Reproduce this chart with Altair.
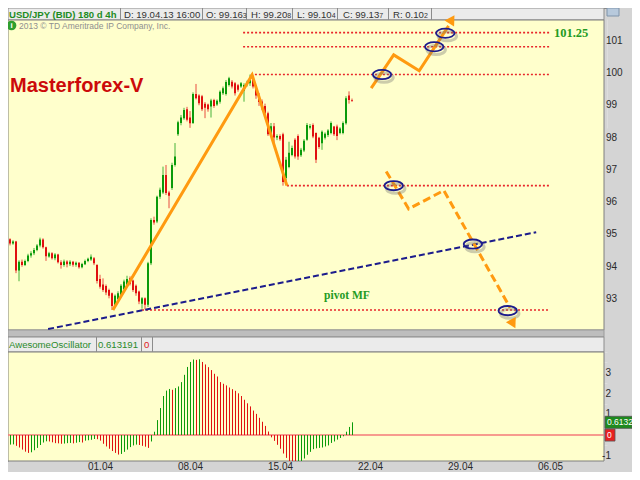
import altair as alt
import pandas as pd
import numpy as np

# ---------------- values ----------------
opens = [94.73, 94.85, 94.72, 94.78, 93.88, 94.15, 94.05, 94.18, 94.35, 94.42,
         94.52, 94.66, 94.84, 94.60, 94.32, 94.42, 94.26, 94.38, 94.14, 94.05,
         94.16, 94.08, 94.15, 94.06, 94.12, 93.98, 94.08, 94.18, 94.22, 94.26,
         94.05, 93.62, 93.45, 93.40, 93.28, 93.18, 92.82, 93.00, 93.13, 93.30,
         93.44, 93.64, 93.57, 93.41, 93.23, 92.85, 93.02, 92.82, 94.11, 95.45,
         95.40, 96.17, 96.30, 96.84, 96.30, 96.44, 97.15, 98.10, 98.45, 98.60,
         98.88, 98.62, 98.45, 99.35, 99.30, 99.28, 99.05, 99.02, 98.96, 99.16,
         99.02, 99.11, 99.37, 99.35, 99.63, 99.73, 99.68, 99.62, 99.58, 99.45,
         99.63, 99.68, 99.85, 99.58, 99.32, 99.12, 98.98, 98.75, 98.10, 98.35,
         98.00, 98.05, 98.10, 96.75, 97.09, 97.46, 97.93, 98.05, 97.45, 97.60,
         97.93, 98.30, 98.39, 98.14, 97.99, 97.82, 97.99, 98.08, 98.14, 98.34,
         98.34, 98.14, 98.14, 98.44, 99.30, 99.163]
highs = [94.90, 94.88, 94.82, 94.80, 94.20, 94.22, 94.22, 94.40, 94.48, 94.58,
         94.70, 94.90, 94.88, 94.62, 94.46, 94.45, 94.42, 94.40, 94.20, 94.22,
         94.20, 94.20, 94.18, 94.16, 94.14, 94.12, 94.22, 94.28, 94.38, 94.30,
         94.08, 93.75, 93.64, 93.45, 93.32, 93.20, 93.14, 93.24, 93.46, 93.60,
         93.72, 93.70, 93.60, 93.45, 93.26, 93.06, 93.05, 94.15, 95.50, 95.55,
         96.20, 96.45, 97.10, 97.15, 96.35, 97.22, 97.83, 98.52, 98.70, 98.92,
         98.95, 98.82, 99.40, 99.66, 99.34, 99.32, 99.10, 99.05, 99.20, 99.20,
         99.18, 99.46, 99.58, 99.78, 99.88, 99.78, 99.72, 99.66, 99.72, 99.68,
         99.76, 99.95, 99.92, 99.62, 99.38, 99.18, 99.05, 98.80, 98.45, 98.45,
         98.10, 98.10, 98.15, 97.40, 97.87, 97.75, 97.98, 98.10, 97.68, 97.95,
         98.45, 98.42, 98.44, 98.16, 98.02, 98.22, 98.16, 98.26, 98.50, 98.36,
         98.40, 98.32, 98.50, 99.28, 99.43, 99.208]
lows = [94.70, 94.66, 94.68, 93.80, 93.55, 94.00, 94.02, 94.14, 94.28, 94.36,
        94.48, 94.60, 94.56, 94.18, 94.28, 94.22, 94.20, 94.10, 93.94, 94.00,
        93.98, 94.02, 94.00, 94.00, 93.94, 93.95, 94.05, 94.14, 94.18, 94.05,
        93.48, 93.32, 93.22, 93.12, 93.02, 92.66, 92.74, 92.95, 93.08, 93.26,
        93.40, 93.42, 93.22, 93.10, 92.84, 92.70, 92.68, 92.75, 94.05, 95.30,
        95.35, 96.10, 96.25, 96.22, 95.81, 96.38, 97.10, 98.05, 98.38, 98.55,
        98.50, 98.30, 98.42, 99.18, 99.00, 98.82, 98.60, 98.80, 98.62, 98.92,
        98.98, 99.05, 99.32, 99.30, 99.58, 99.52, 99.30, 99.42, 99.54, 99.11,
        99.58, 99.60, 99.52, 99.20, 98.98, 98.85, 98.65, 98.05, 98.05, 97.80,
        97.92, 97.90, 96.51, 96.60, 97.05, 97.42, 97.35, 97.31, 97.40, 97.55,
        97.90, 98.25, 97.98, 97.21, 97.65, 97.62, 97.94, 98.02, 98.10, 98.05,
        97.92, 98.10, 98.10, 98.40, 99.05, 99.104]
closes = [94.85, 94.72, 94.78, 93.88, 94.15, 94.05, 94.18, 94.35, 94.42, 94.52,
          94.66, 94.84, 94.60, 94.32, 94.42, 94.26, 94.38, 94.14, 94.05, 94.16,
          94.08, 94.15, 94.06, 94.12, 93.98, 94.08, 94.18, 94.25, 94.31, 94.11,
          93.56, 93.38, 93.28, 93.20, 93.10, 92.78, 93.10, 93.18, 93.41, 93.54,
          93.62, 93.47, 93.28, 93.18, 92.92, 93.02, 92.82, 94.11, 95.45, 95.37,
          96.17, 96.38, 96.84, 96.28, 96.20, 97.15, 97.41, 98.47, 98.62, 98.85,
          98.55, 98.44, 99.35, 99.22, 99.06, 98.88, 98.92, 98.88, 99.15, 98.98,
          99.14, 99.42, 99.53, 99.72, 99.84, 99.58, 99.37, 99.48, 99.68, 99.63,
          99.70, 99.85, 99.58, 99.30, 99.10, 98.95, 98.75, 98.10, 98.35, 98.00,
          98.05, 97.95, 96.62, 97.31, 97.53, 97.68, 97.41, 97.41, 97.62, 97.90,
          98.39, 98.36, 98.03, 97.31, 97.71, 98.18, 98.12, 98.22, 98.45, 98.10,
          98.05, 98.28, 98.45, 99.22, 99.16, 99.137]
ao_values = [-0.50, -0.46, -0.45, -0.52, -0.60, -0.70, -0.80, -0.86, -0.83, -0.73,
             -0.62, -0.48, -0.36, -0.30, -0.31, -0.35, -0.39, -0.40, -0.42, -0.41,
             -0.39, -0.38, -0.40, -0.37, -0.34, -0.36, -0.27, -0.25, -0.23, -0.19,
             -0.20, -0.27, -0.42, -0.55, -0.66, -0.77, -0.86, -0.94, -0.91, -0.81,
             -0.70, -0.58, -0.50, -0.46, -0.48, -0.52, -0.56, -0.62, -0.31, 0.16,
             0.72, 1.30, 1.88, 2.14, 2.22, 2.18, 2.26, 2.34, 2.55, 2.90,
             3.28, 3.52, 3.64, 3.62, 3.65, 3.52, 3.40, 3.27, 3.13, 2.95,
             2.82, 2.55, 2.47, 2.39, 2.29, 2.21, 2.13, 2.01, 1.88, 1.70,
             1.53, 1.38, 1.18, 1.02, 0.83, 0.64, 0.44, 0.17, -0.11, -0.28,
             -0.47, -0.66, -0.89, -1.10, -1.36, -1.52, -1.55, -1.50, -1.36, -1.13,
             -0.95, -0.81, -0.68, -0.64, -0.62, -0.60, -0.55, -0.50, -0.38, -0.31,
             -0.22, -0.14, -0.06, 0.16, 0.39, 0.613]

price_ticks = [93, 94, 95, 96, 97, 98, 99, 100, 101]
ao_ticks = [3, 2, 1, -1]
date_labels = ["01.04", "08.04", "15.04", "22.04", "29.04", "06.05"]
date_bars = [27, 57, 87, 117, 147, 177]

levels = [101.25, 100.81, 99.95, 96.51, 92.66]
level_start = [78.7, 78.7, 81.3, 93.3, 45.0]
level_end = [180.7, 180.7, 180.7, 180.7, 180.7]

zigzag_i = [35.3, 81.7, 93.3]
zigzag_p = [92.66, 99.94, 96.51]
up_i = [121.4, 128.9, 137.4, 147.2]
up_p = [99.53, 100.56, 100.07, 101.46]
down_i = [126.4, 133.9, 145.6, 167.7]
down_p = [96.95, 95.79, 96.36, 92.73]
trend_i = [13.7, 176.4]
trend_p = [92.07, 95.07]
ring_i = [125.0, 142.4, 146.1, 128.9, 155.3, 166.9]
ring_p = [99.95, 100.81, 101.23, 96.51, 94.70, 92.64]
arrow_i = [148.3, 168.7]
arrow_p = [101.66, 92.23]
arrow_angle = [32, 152]

header_main = "USD/JPY (BID) 180 d 4h"
header_items = ["D: 19.04.13 16:00", "O: 99.16", "H: 99.20", "L: 99.10", "C: 99.13", "R: 0.10"]
header_small = ["3", "8", "4", "7", "2"]
ao_header = ["AwesomeOscillator", "0.613191", "0"]
ao_last = 0.6132

# ---------------- styling / layout ----------------
GREEN = "#0A9A0A"
RED = "#E01010"
ORANGE = "#FF9A10"
NAVY = "#1C1C8C"
YELLOW = "#FFFFCC"
BG = "#D4D4D4"
FONT = "Liberation Sans"

XS = alt.Scale(domain=[0, 200], range=[-1, 599], nice=False, zero=False)
PS = alt.Scale(domain=[92.04, 101.64], range=[322, 12], nice=False, zero=False)
AS = alt.Scale(domain=[-1.25, 4.0], range=[453, 344], nice=False, zero=False, clamp=True)

ELL = ("M -1 0 C -1 -0.276 -0.552 -0.5 0 -0.5 C 0.552 -0.5 1 -0.276 1 0 "
       "C 1 0.276 0.552 0.5 0 0.5 C -0.552 0.5 -1 0.276 -1 0 Z")

dir_color = alt.Color("dir:N", scale=alt.Scale(domain=["up", "down"], range=[GREEN, RED]), legend=None)

# panels (layout rectangles, pixel space)
panels = pd.DataFrame([
    dict(x0=0, x1=596, y0=0, y1=12, fill="#EBEBEB", stroke="#8C8C8C"),
    dict(x0=0, x1=596, y0=12, y1=322, fill=YELLOW, stroke="#7F7F7F"),
    dict(x0=0, x1=596, y0=322, y1=329, fill="#BDBDBD", stroke="#9A9A9A"),
    dict(x0=0, x1=596, y0=329, y1=344, fill="#EBEBEB", stroke="#8C8C8C"),
    dict(x0=0, x1=596, y0=344, y1=453, fill=YELLOW, stroke="#7F7F7F"),
    dict(x0=599, x1=611, y0=0, y1=8, fill="#B7C9DC", stroke="#7E93AA"),
])
rects = alt.Chart(panels).mark_rect(strokeWidth=1).encode(
    x=alt.X("x0:Q", scale=None), x2="x1:Q",
    y=alt.Y("y0:Q", scale=None), y2="y1:Q",
    fill=alt.Fill("fill:N", scale=None), stroke=alt.Stroke("stroke:N", scale=None))

seps = pd.DataFrame(dict(x=[112.5, 194.5, 238.5, 284.5, 329.5, 380.5, 423.5, 88.5, 133.5, 144.5],
                         y0=[0] * 7 + [329] * 3, y1=[12] * 7 + [344] * 3))
sep_rules = alt.Chart(seps).mark_rule(color="#8C8C8C", strokeWidth=1).encode(
    x=alt.X("x:Q", scale=None), y=alt.Y("y0:Q", scale=None), y2="y1:Q")

# header texts
hm = pd.DataFrame(dict(x=[1], y=[10], t=[header_main]))
hdr_main = alt.Chart(hm).mark_text(font=FONT, fontSize=9.6, fontWeight="bold", color="#1E8C1E",
                                   align="left", baseline="alphabetic").encode(
    x=alt.X("x:Q", scale=None), y=alt.Y("y:Q", scale=None), text="t:N")
hi = pd.DataFrame(dict(x=[116, 198, 243, 289, 335, 385], y=[10] * 6, t=header_items))
hdr_items = alt.Chart(hi).mark_text(font=FONT, fontSize=9.6, color="#333333",
                                    align="left", baseline="alphabetic").encode(
    x=alt.X("x:Q", scale=None), y=alt.Y("y:Q", scale=None), text="t:N")
hs = pd.DataFrame(dict(x=[234.8, 279.3, 323.7, 371.3, 416], y=[10] * 5, t=header_small))
hdr_small = alt.Chart(hs).mark_text(font=FONT, fontSize=7, color="#333333",
                                    align="left", baseline="alphabetic").encode(
    x=alt.X("x:Q", scale=None), y=alt.Y("y:Q", scale=None), text="t:N")
cp = pd.DataFrame(dict(x=[11], y=[17.5], t=["2013 \u00a9 TD Ameritrade IP Company, Inc."]))
copyright_t = alt.Chart(cp).mark_text(font=FONT, fontSize=8.5, color="#8F8F8F",
                                      align="left", baseline="middle").encode(
    x=alt.X("x:Q", scale=None), y=alt.Y("y:Q", scale=None), text="t:N")
ic = pd.DataFrame(dict(x=[3.5], y=[17.5], t=["i"]))
icon_c = alt.Chart(ic).mark_point(shape="circle", filled=True, size=95, color="#2F9F2F", opacity=1).encode(
    x=alt.X("x:Q", scale=None), y=alt.Y("y:Q", scale=None))
icon_t = alt.Chart(ic).mark_text(font=FONT, fontSize=8, fontWeight="bold", color="white",
                                 align="center", baseline="middle").encode(
    x=alt.X("x:Q", scale=None), y=alt.Y("y:Q", scale=None), text="t:N")

ah = pd.DataFrame(dict(x=[1, 90, 136], y=[340] * 3, t=ao_header, c=["#2A8A2A", "#2A8A2A", "#E02020"]))
ao_hdr = alt.Chart(ah).mark_text(font=FONT, fontSize=9.6, align="left", baseline="alphabetic").encode(
    x=alt.X("x:Q", scale=None), y=alt.Y("y:Q", scale=None), text="t:N",
    color=alt.Color("c:N", scale=None))

# candles
cdf = pd.DataFrame(dict(i=list(range(len(opens))), o=opens, h=highs, l=lows, c=closes))
cdf["dir"] = np.where(cdf["c"] >= cdf["o"], "up", "down")
wicks = alt.Chart(cdf).mark_rule(strokeWidth=1, opacity=0.75).encode(
    x=alt.X("i:Q", scale=XS), y=alt.Y("l:Q", scale=PS), y2="h:Q", color=dir_color)
bodies = alt.Chart(cdf).mark_rule(strokeWidth=2).encode(
    x=alt.X("i:Q", scale=XS), y=alt.Y("o:Q", scale=PS), y2="c:Q", color=dir_color)

# awesome oscillator
adf = pd.DataFrame(dict(i=list(range(len(ao_values))), v=ao_values, z=[0.0] * len(ao_values)))
adf["dir"] = np.where(adf["v"].diff().fillna(1) >= 0, "up", "down")
ao_bars = alt.Chart(adf).mark_rule(strokeWidth=1, xOffset=0.5).encode(
    x=alt.X("i:Q", scale=XS), y=alt.Y("v:Q", scale=AS), y2="z:Q", color=dir_color)
zl = pd.DataFrame(dict(a=[-1], b=[199], v=[0.0]))
zero_line = alt.Chart(zl).mark_rule(color="#F47A7A", strokeWidth=1.5).encode(
    x=alt.X("a:Q", scale=XS), x2="b:Q", y=alt.Y("v:Q", scale=AS))

# level lines
lv = pd.DataFrame(dict(p=levels, s=level_start, e=level_end))
level_lines = alt.Chart(lv).mark_rule(color="#E8262A", strokeWidth=1.6, strokeDash=[2, 2]).encode(
    x=alt.X("s:Q", scale=XS), x2="e:Q", y=alt.Y("p:Q", scale=PS))

def poly(ii, pp):
    return pd.DataFrame(dict(i=ii, p=pp, k=list(range(len(ii)))))

trend = alt.Chart(poly(trend_i, trend_p)).mark_line(color=NAVY, strokeWidth=2, strokeDash=[6, 3]).encode(
    x=alt.X("i:Q", scale=XS), y=alt.Y("p:Q", scale=PS), order="k:Q")
zigzag = alt.Chart(poly(zigzag_i, zigzag_p)).mark_line(color=ORANGE, strokeWidth=3).encode(
    x=alt.X("i:Q", scale=XS), y=alt.Y("p:Q", scale=PS), order="k:Q")
up_line = alt.Chart(poly(up_i, up_p)).mark_line(color=ORANGE, strokeWidth=3).encode(
    x=alt.X("i:Q", scale=XS), y=alt.Y("p:Q", scale=PS), order="k:Q")
down_line = alt.Chart(poly(down_i, down_p)).mark_line(color=ORANGE, strokeWidth=3, strokeDash=[8, 4]).encode(
    x=alt.X("i:Q", scale=XS), y=alt.Y("p:Q", scale=PS), order="k:Q")
adf2 = pd.DataFrame(dict(i=arrow_i, p=arrow_p, a=arrow_angle))
arrows = alt.Chart(adf2).mark_point(shape="triangle-up", filled=True, size=125, color=ORANGE, opacity=1).encode(
    x=alt.X("i:Q", scale=XS), y=alt.Y("p:Q", scale=PS), angle=alt.Angle("a:Q", scale=None))

rdf = pd.DataFrame(dict(i=ring_i, p=ring_p))
ring_shadow = alt.Chart(rdf).mark_point(shape=ELL, size=340, filled=False, color="#6E6E6E",
                                        strokeWidth=3, opacity=0.35, xOffset=2, yOffset=3).encode(
    x=alt.X("i:Q", scale=XS), y=alt.Y("p:Q", scale=PS))
rings = alt.Chart(rdf).mark_point(shape=ELL, size=340, filled=False, color=NAVY,
                                  strokeWidth=1.8, opacity=1).encode(
    x=alt.X("i:Q", scale=XS), y=alt.Y("p:Q", scale=PS))

# annotations
mf = pd.DataFrame(dict(x=[2], y=[78], t=["Masterforex-V"]))
title_t = alt.Chart(mf).mark_text(font=FONT, fontSize=20, fontWeight="bold", color="#CC0A0A",
                                  align="left", baseline="middle").encode(
    x=alt.X("x:Q", scale=None), y=alt.Y("y:Q", scale=None), text="t:N")
ann = pd.DataFrame(dict(i=[182.3, 105.7], p=[101.25, 93.10], t=["101.25", "pivot MF"], s=[12.5, 11.5]))
ann_t = alt.Chart(ann).mark_text(font="Liberation Serif", fontWeight="bold", color="#239B23",
                                 align="left", baseline="middle").encode(
    x=alt.X("i:Q", scale=XS), y=alt.Y("p:Q", scale=PS), text="t:N", size=alt.Size("s:Q", scale=None))

# axis labels
pt = pd.DataFrame(dict(p=price_ticks, t=[str(v) for v in price_ticks]))
price_lbl = alt.Chart(pt).mark_text(font=FONT, fontSize=10, color="#2A2A2A", align="left", baseline="middle").encode(
    x=alt.value(598), y=alt.Y("p:Q", scale=PS), text="t:N")
at = pd.DataFrame(dict(v=ao_ticks, t=[str(v) for v in ao_ticks]))
ao_lbl = alt.Chart(at).mark_text(font=FONT, fontSize=10, color="#2A2A2A", align="right", baseline="middle").encode(
    x=alt.value(603), y=alt.Y("v:Q", scale=AS), text="t:N")
dt = pd.DataFrame(dict(i=date_bars, t=date_labels))
date_lbl = alt.Chart(dt).mark_text(font=FONT, fontSize=10, color="#2A2A2A", align="left", baseline="alphabetic").encode(
    x=alt.X("i:Q", scale=XS), y=alt.value(462), text="t:N")

vb = pd.DataFrame(dict(v=[ao_last, 0.0], x0=[597, 597], x1=[624, 607], f=["#1E8A1E", "#E82020"],
                       t=[f"{ao_last:.4f}", "0"]))
val_box = alt.Chart(vb).mark_rect(yOffset=-6, y2Offset=6, stroke="#555555", strokeWidth=0.8).encode(
    x=alt.X("x0:Q", scale=None), x2="x1:Q", y=alt.Y("v:Q", scale=AS), y2="v:Q",
    fill=alt.Fill("f:N", scale=None))
val_txt = alt.Chart(vb).mark_text(font=FONT, fontSize=8.5, color="white", align="left", baseline="middle").encode(
    x=alt.value(599), y=alt.Y("v:Q", scale=AS), text="t:N")

chart = alt.layer(
    rects, sep_rules, hdr_main, hdr_items, hdr_small, copyright_t, icon_c, icon_t, ao_hdr,
    zero_line, ao_bars, level_lines, trend, wicks, bodies, zigzag, up_line, down_line,
    ring_shadow, rings, arrows, title_t, ann_t, price_lbl, ao_lbl, date_lbl, val_box, val_txt
).resolve_scale(
    x="independent", y="independent", color="independent", size="independent", angle="independent"
).properties(
    width=624, height=464, padding=0, background=BG,
    autosize=alt.AutoSizeParams(type="none")
).configure_view(stroke=None)

chart.save("out.html", embed_options={"renderer": "svg", "actions": False})
